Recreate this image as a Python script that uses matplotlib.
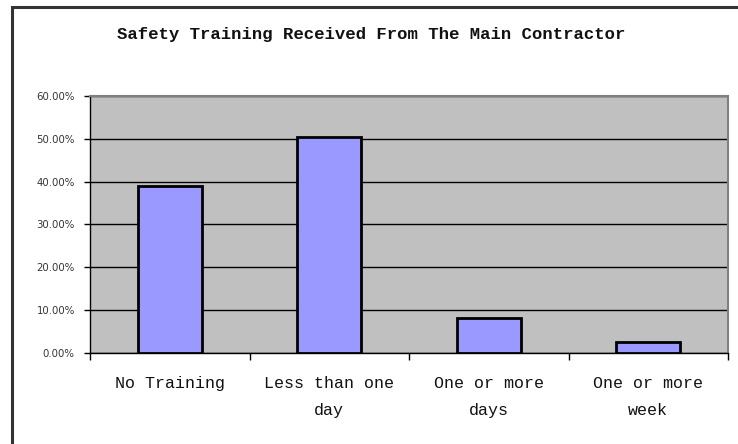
import matplotlib
matplotlib.use("Agg")
import matplotlib.pyplot as plt
from matplotlib.patches import Rectangle
from matplotlib.ticker import FuncFormatter, MultipleLocator

categories = ["No Training", "Less than one\nday", "One or more\ndays", "One or more\nweek"]
values = [38.9, 50.4, 8.2, 2.5]
title = "Safety Training Received From The Main Contractor"

W, H = 738, 444
fig = plt.figure(figsize=(W / 100, H / 100), dpi=100)
fig.patch.set_facecolor("white")

# outer chart frame
fig.add_artist(Rectangle((11.5 / W, -0.1), 1.2, (H - 7.5) / H + 0.1, transform=fig.transFigure,
                         fill=False, edgecolor="#333333", linewidth=2.2))

left, right, top, bottom = 90, 728, 96, 352.7
ax = fig.add_axes([left / W, 1 - bottom / H, (right - left) / W, (bottom - top) / H])
ax.set_facecolor("#C0C0C0")

x = range(len(categories))
ax.bar(x, values, width=0.4, color="#9999FF", edgecolor="black", linewidth=2.0, zorder=3)

ax.set_xlim(-0.5, len(categories) - 0.5)
ax.set_ylim(0, 60)
ax.yaxis.set_major_locator(MultipleLocator(10))
ax.yaxis.set_major_formatter(FuncFormatter(lambda v, p: f"{v:.2f}%"))
ax.grid(axis="y", color="black", linewidth=1.0, zorder=1)
ax.set_axisbelow(True)

ax.set_xticks([i - 0.5 for i in range(len(categories) + 1)], minor=False)
ax.set_xticklabels([])
ax.set_xticks(list(x), minor=True)
ax.set_xticklabels(categories, minor=True, fontfamily="Liberation Mono", fontsize=12,
                   color="#111111", linespacing=1.95)
ax.tick_params(axis="x", which="minor", length=0, pad=17)
ax.tick_params(axis="x", which="major", length=5, width=1, color="black", direction="out")
ax.tick_params(axis="y", length=4, width=1, color="black", direction="out",
               labelsize=7.3, labelcolor="#333333", pad=7)

for s in ["top", "right"]:
    ax.spines[s].set_color("#808080")
    ax.spines[s].set_linewidth(1.5)
for s in ["left", "bottom"]:
    ax.spines[s].set_color("black")
    ax.spines[s].set_linewidth(1.0)

fig.text(371 / W, 1 - 35 / H, title, ha="center", va="center",
         fontfamily="Liberation Mono", fontweight="bold", fontsize=12.4, color="#111111")

fig.savefig("out.png", dpi=100)
